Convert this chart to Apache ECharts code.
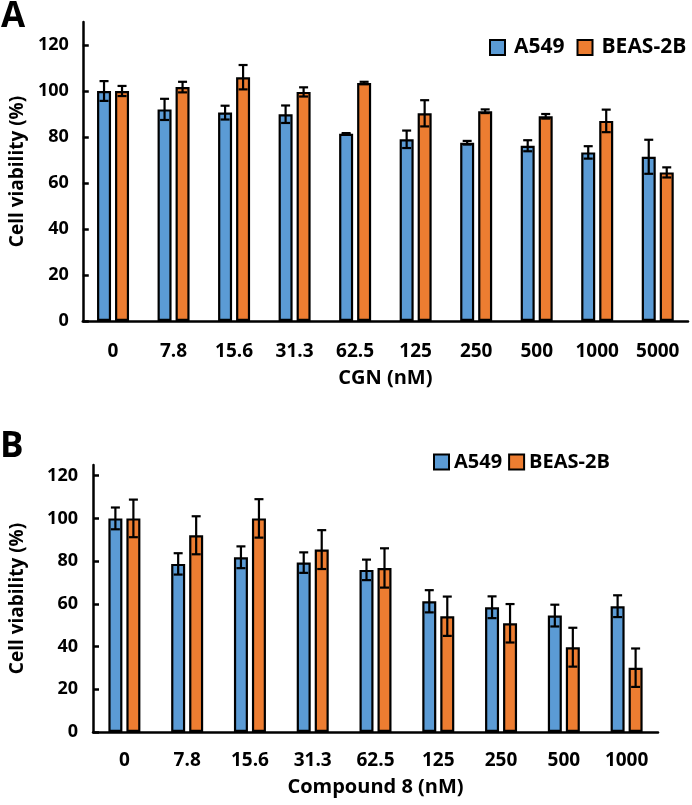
<!DOCTYPE html>
<html><head><meta charset="utf-8">
<script src="https://cdn.jsdelivr.net/npm/echarts@6/dist/echarts.min.js"></script>
<style>html,body{margin:0;padding:0;background:#fff}#c{width:692px;height:805px}</style>
</head><body><div id="c"></div>
<script>
const seriesNames = ['A549', 'BEAS-2B'];
const catA = ['0', '7.8', '15.6', '31.3', '62.5', '125', '250', '500', '1000', '5000'];
const a549A = [100, 92, 90.6, 89.9, 81.4, 79, 77.5, 76.2, 73.3, 71.4];
const a549AErr = [4.3, 4.6, 3.0, 3.8, 0.3, 3.8, 0.8, 2.4, 2.7, 7.4];
const beasA = [100, 101.7, 106, 99.6, 103.5, 90.3, 91.2, 89, 87, 64.6];
const beasAErr = [2.2, 2.3, 5.3, 2.0, 0.5, 5.7, 0.8, 1.0, 4.9, 2.2];
const catB = ['0', '7.8', '15.6', '31.3', '62.5', '125', '250', '500', '1000'];
const a549B = [100, 78.7, 81.8, 79.3, 75.9, 61.2, 58.4, 54.5, 58.9];
const a549BErr = [5.1, 5.0, 5.1, 4.8, 4.8, 5.2, 5.1, 5.1, 5.1];
const beasB = [100, 92.1, 100, 85.4, 76.8, 54.2, 50.9, 39.7, 30.1];
const beasBErr = [8.8, 8.9, 9.0, 9.1, 9.2, 9.2, 9.0, 9.1, 9.0];
const yTicks = [0, 20, 40, 60, 80, 100, 120];
const xTitleA = 'CGN (nM)';
const xTitleB = 'Compound 8 (nM)';
const yTitle = 'Cell viability (%)';

const FONT = 'Open Sans';
const BLUE = '#5B9BD5', ORANGE = '#ED7D31';
const BAR_W = 14, GAP = 4;

function errData(vals, errs) { return vals.map((v, i) => [i, v, errs[i]]); }
function errRender(sign) {
  return function (params, api) {
    const i = api.value(0), v = api.value(1), e = api.value(2);
    const c = api.coord([i, v]);
    const hi = api.coord([i, v + e]);
    const lo = api.coord([i, v - e]);
    const x = c[0] + sign * (BAR_W / 2 + GAP / 2);
    const cap = 4.5;
    const st = { stroke: '#000', lineWidth: 2.2 };
    return { type: 'group', children: [
      { type: 'line', shape: { x1: x, y1: hi[1], x2: x, y2: lo[1] }, style: st },
      { type: 'line', shape: { x1: x - cap, y1: hi[1], x2: x + cap, y2: hi[1] }, style: st },
      { type: 'line', shape: { x1: x - cap, y1: lo[1], x2: x + cap, y2: lo[1] }, style: st }
    ]};
  };
}
function barSeries(name, data, idx, color) {
  return { name: name, type: 'bar', xAxisIndex: idx, yAxisIndex: idx, data: data,
    barWidth: BAR_W, barGap: (GAP / BAR_W * 100) + '%',
    itemStyle: { color: color, borderColor: '#000', borderWidth: 2.2 }, z: 2 };
}
function errSeries(name, vals, errs, idx, sign) {
  return { name: name, type: 'custom', xAxisIndex: idx, yAxisIndex: idx,
    data: errData(vals, errs), encode: { x: 0, y: 1 }, renderItem: errRender(sign), z: 5, silent: true };
}
function yAxis(idx, max, labelMargin, nameGap) {
  return { type: 'value', gridIndex: idx, min: 0, max: max, interval: 20,
    name: yTitle, nameLocation: 'middle', nameGap: nameGap, nameRotate: 90,
    nameTextStyle: { fontFamily: FONT, fontWeight: 'bold', fontSize: 19, color: '#000' },
    axisLine: { show: true, lineStyle: { color: '#000', width: 2.5 } },
    axisTick: { show: true, inside: true, length: 6, lineStyle: { color: '#000', width: 2.5 }, customValues: yTicks },
    axisLabel: { color: '#000', fontFamily: FONT, fontWeight: 'bold', fontSize: 18, margin: labelMargin, customValues: yTicks },
    splitLine: { show: false } };
}
function xAxis(idx, cats, name, labelMargin, nameGap) {
  return { type: 'category', gridIndex: idx, data: cats,
    name: name, nameLocation: 'middle', nameGap: nameGap,
    nameTextStyle: { fontFamily: FONT, fontWeight: 'bold', fontSize: 20, color: '#000' },
    axisLine: { lineStyle: { color: '#000', width: 2.5 } },
    axisTick: { show: false },
    axisLabel: { color: '#000', fontFamily: FONT, fontWeight: 'bold', fontSize: 19, margin: labelMargin, interval: 0 } };
}
function legend(left, top, itemGap, textPad, fs) {
  return { data: seriesNames, left: left, top: top, width: 400, padding: 0, orient: 'horizontal',
    itemGap: itemGap, itemWidth: 15, itemHeight: 15,
    icon: 'rect', itemStyle: { borderColor: '#000', borderWidth: 2 },
    textStyle: { fontFamily: FONT, fontWeight: 'bold', fontSize: fs, color: '#000', padding: [0, 0, 0, textPad] } };
}

const chart = echarts.init(document.getElementById('c'), null, { renderer: 'canvas' });
chart.setOption({
  animation: false,
  backgroundColor: '#fff',
  title: [
    { text: 'A', left: 1, top: 0, padding: 0, textStyle: { fontFamily: FONT, fontWeight: 'bold', fontSize: 35, color: '#000' } },
    { text: 'B', left: 0, top: 430, padding: 0, textStyle: { fontFamily: FONT, fontWeight: 'bold', fontSize: 35, color: '#000' } }
  ],
  legend: [legend(489, 37, 12, 4, 21), legend(433, 452, 6, 0, 20)],
  grid: [
    { left: 78, right: 4, top: 22, bottom: 484 },
    { left: 89, right: 34, top: 465, bottom: 73 }
  ],
  xAxis: [xAxis(0, catA, xTitleA, 21, 47), xAxis(1, catB, xTitleB, 19, 45)],
  yAxis: [yAxis(0, 130, 14, 55), yAxis(1, 125, 15, 66)],
  series: [
    barSeries(seriesNames[0], a549A, 0, BLUE),
    barSeries(seriesNames[1], beasA, 0, ORANGE),
    errSeries('errA1', a549A, a549AErr, 0, -1),
    errSeries('errA2', beasA, beasAErr, 0, 1),
    barSeries(seriesNames[0], a549B, 1, BLUE),
    barSeries(seriesNames[1], beasB, 1, ORANGE),
    errSeries('errB1', a549B, a549BErr, 1, -1),
    errSeries('errB2', beasB, beasBErr, 1, 1)
  ]
});
</script></body></html>
